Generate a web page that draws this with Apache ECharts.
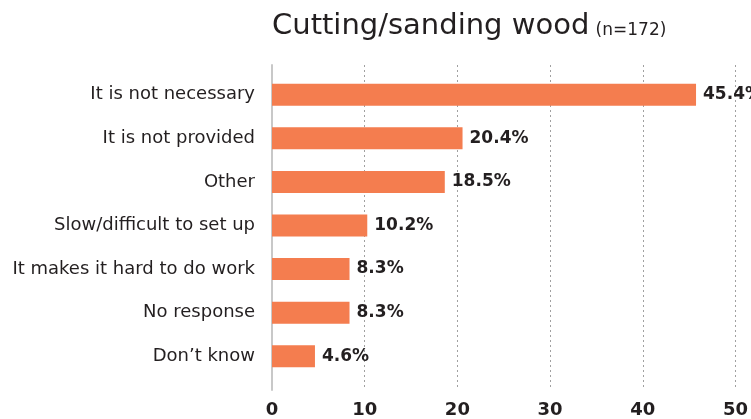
<!DOCTYPE html>
<html>
<head>
<meta charset="utf-8">
<script src="https://cdn.jsdelivr.net/npm/echarts@6/dist/echarts.min.js"></script>
<style>
  html, body { margin: 0; padding: 0; background: #fff; }
  #chart { width: 751px; height: 419px; }
</style>
</head>
<body>
<div id="chart"></div>
<script>
// Reasons given for not using protection when cutting/sanding wood
const categories = [
  'It is not necessary',
  'It is not provided',
  'Other',
  'Slow/difficult to set up',
  'It makes it hard to do work',
  'No response',
  'Don\u2019t know'
];
const percentages = [45.4, 20.4, 18.5, 10.2, 8.3, 8.3, 4.6];
const axisTicks = [0, 10, 20, 30, 40, 50];

const FONT = 'DejaVu Sans';
const TEXT = '#231f20';
const BAR = '#f47d4f';

const chart = echarts.init(document.getElementById('chart'), null, { renderer: 'canvas' });

chart.setOption({
  animation: false,
  backgroundColor: '#ffffff',
  textStyle: { fontFamily: FONT, color: TEXT },
  title: {
    text: '{a|Cutting/sanding wood} {b|(n=172)}',
    left: 267,
    top: 7,
    textStyle: {
      rich: {
        a: { fontFamily: FONT, fontSize: 29, color: TEXT, fontWeight: 'normal' },
        b: { fontFamily: FONT, fontSize: 17, color: TEXT, fontWeight: 'normal', padding: [8, 0, 0, 0] }
      }
    }
  },
  grid: [
    { left: 272, right: 12, top: 73, height: 305 },
    { left: 272, right: 12, top: 65, height: 327 }
  ],
  xAxis: [
    { gridIndex: 0, type: 'value', min: axisTicks[0], max: axisTicks[axisTicks.length - 1], show: false },
    {
      gridIndex: 1, type: 'value',
      min: axisTicks[0], max: axisTicks[axisTicks.length - 1],
      interval: axisTicks[1] - axisTicks[0],
      axisLine: { show: false },
      axisTick: { show: false },
      axisLabel: { fontFamily: FONT, fontSize: 18, fontWeight: 600, color: TEXT, margin: 11 },
      splitLine: { show: true, showMinLine: false, lineStyle: { type: [2, 3], color: '#a0a0a0', width: 1 } }
    }
  ],
  yAxis: [
    {
      gridIndex: 0, type: 'category', data: categories, inverse: true,
      axisLine: { show: false }, axisTick: { show: false },
      axisLabel: { fontFamily: FONT, fontSize: 18, color: TEXT, margin: 17 }
    },
    {
      gridIndex: 1, type: 'value', min: 0, max: 1,
      axisLine: { show: true, lineStyle: { color: '#c8c8c8', width: 2 } },
      axisTick: { show: false }, axisLabel: { show: false }, splitLine: { show: false }
    }
  ],
  series: [{
    type: 'bar',
    xAxisIndex: 0, yAxisIndex: 0,
    data: percentages,
    barWidth: 22,
    itemStyle: { color: BAR },
    z: 3,
    label: {
      show: true, position: 'right', distance: 7,
      formatter: p => p.value.toFixed(1) + '%',
      fontFamily: FONT, fontSize: 17, fontWeight: 'bold', color: TEXT
    }
  }]
});
</script>
</body>
</html>
